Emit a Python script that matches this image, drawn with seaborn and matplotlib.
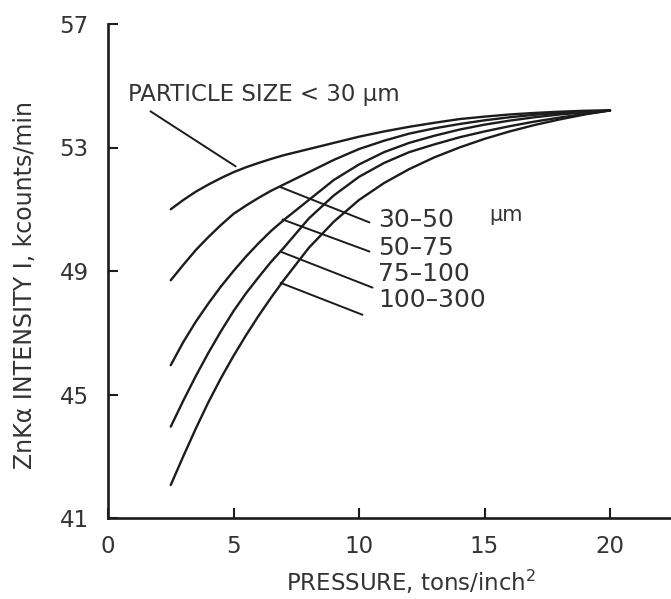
import matplotlib
matplotlib.use("Agg")
import matplotlib.pyplot as plt
import seaborn as sns
import pandas as pd

sns.set_theme(style="white")
plt.rcParams['font.family'] = ['DejaVu Sans']

# Pressure (tons/inch^2)
pressure = [2.5, 3, 3.5, 4, 4.5, 5, 5.5, 6, 6.5, 7, 8, 9, 10, 11, 12, 13, 14, 15, 16, 17, 18, 19, 20]

# ZnKa intensity (kcounts/min) per particle size class
size_lt30 = [51.0, 51.3, 51.57, 51.8, 52.01, 52.2, 52.36, 52.5, 52.63, 52.75, 52.95, 53.15, 53.35, 53.52, 53.67, 53.8, 53.92, 54.0, 54.07, 54.12, 54.16, 54.19, 54.2]
size_30_50 = [48.7, 49.2, 49.68, 50.1, 50.49, 50.85, 51.12, 51.37, 51.6, 51.8, 52.2, 52.6, 52.95, 53.22, 53.45, 53.62, 53.76, 53.88, 53.98, 54.06, 54.12, 54.17, 54.2]
size_50_75 = [45.95, 46.7, 47.36, 47.95, 48.5, 49.0, 49.47, 49.9, 50.3, 50.65, 51.3, 51.95, 52.45, 52.85, 53.15, 53.38, 53.58, 53.74, 53.87, 53.98, 54.07, 54.14, 54.2]
size_75_100 = [43.96, 44.8, 45.6, 46.35, 47.05, 47.7, 48.28, 48.8, 49.3, 49.75, 50.7, 51.45, 52.05, 52.5, 52.85, 53.1, 53.33, 53.52, 53.69, 53.84, 53.97, 54.09, 54.2]
size_100_300 = [42.07, 43.0, 43.9, 44.75, 45.53, 46.25, 46.92, 47.55, 48.14, 48.7, 49.75, 50.6, 51.3, 51.85, 52.3, 52.68, 53.0, 53.28, 53.52, 53.73, 53.91, 54.07, 54.2]

series_names = ["<30", "30-50", "50-75", "75-100", "100-300"]
series_values = [size_lt30, size_30_50, size_50_75, size_75_100, size_100_300]

x_ticks = [0, 5, 10, 15, 20]
x_ticklabels = ["0", "5", "10", "15", "20"]
y_ticks = [41, 45, 49, 53, 57]
y_ticklabels = ["41", "45", "49", "53", "57"]

frames = []
for name, vals in zip(series_names, series_values):
    frames.append(pd.DataFrame({"pressure": pressure, "intensity": vals, "size": name}))
df = pd.concat(frames, ignore_index=True)

fig = plt.figure(figsize=(6.71, 5.99), dpi=100)
ax = fig.add_axes([108/671, 81/599, 563/671, 494/599])

sns.lineplot(data=df, x="pressure", y="intensity", units="size", estimator=None,
             color="#1c1c1c", linewidth=1.7, ax=ax, legend=False,
             solid_joinstyle="round", solid_capstyle="round")

ax.set_xlim(0, 22.43)
ax.set_ylim(41, 57)
ax.set_xticks(x_ticks)
ax.set_xticklabels(x_ticklabels)
ax.set_yticks(y_ticks)
ax.set_yticklabels(y_ticklabels)

for s in ["top", "right"]:
    ax.spines[s].set_visible(False)
for s in ["left", "bottom"]:
    ax.spines[s].set_color("#1c1c1c")
    ax.spines[s].set_linewidth(1.9)

txtc = "#333333"
ax.tick_params(axis="both", which="major", bottom=True, left=True, top=False, right=False,
               direction="in", length=7, width=1.5, color="#1c1c1c",
               labelsize=16.5, labelcolor=txtc)
ax.tick_params(axis="y", pad=14)
ax.tick_params(axis="x", pad=12)

ax.set_xlabel("PRESSURE, tons/inch$^{2}$", fontsize=16.5, color=txtc)
ax.set_ylabel("ZnK\u03b1 INTENSITY I, kcounts/min", fontsize=17, color=txtc)
ax.xaxis.set_label_coords(0.538, -0.13)
ax.xaxis.label.set_va("center")
ax.yaxis.set_label_coords(-0.147, 0.472)
ax.yaxis.label.set_va("center")

# Annotations
ax.text(0.8, 54.71, "PARTICLE SIZE < 30 \u03bcm", fontsize=16.5, color=txtc, va="center", ha="left")
ax.annotate("", xy=(5.18, 52.34), xytext=(1.6, 54.22),
            arrowprops=dict(arrowstyle="-", color="#1c1c1c", lw=1.4))

label_texts = ["30\u201350", "50\u201375", "75\u2013100", "100\u2013300"]
label_y = [50.64, 49.76, 48.9, 48.05]
leader_start = [(6.77, 51.75), (6.85, 50.7), (6.77, 49.66), (6.77, 48.65)]
leader_end = [(10.52, 50.54), (10.52, 49.6), (10.64, 48.43), (10.24, 47.55)]
for t, yy, st, en in zip(label_texts, label_y, leader_start, leader_end):
    ax.text(10.76, yy, t, fontsize=18, color=txtc, va="center", ha="left")
    ax.annotate("", xy=en, xytext=st,
                arrowprops=dict(arrowstyle="-", color="#1c1c1c", lw=1.4))
ax.text(15.2, 50.8, "\u03bcm", fontsize=15, color=txtc, va="center", ha="left")

fig.savefig("out.png", dpi=100)
